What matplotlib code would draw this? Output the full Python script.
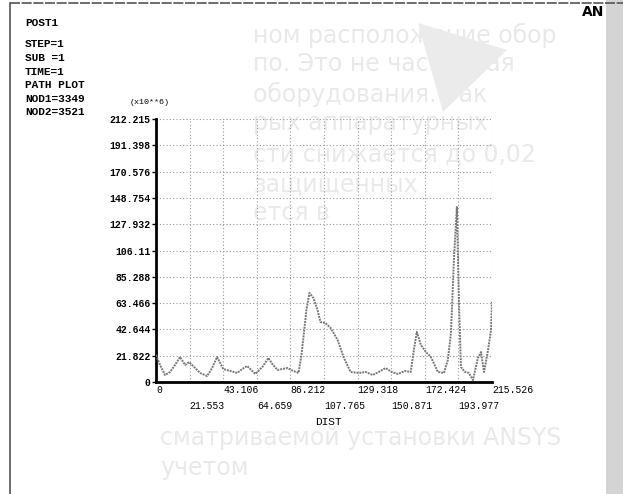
import matplotlib.pyplot as plt
from matplotlib.patches import Polygon, Rectangle

# path plot (DIST, value x10**6)
dist = [0.0, 2.6, 5.8, 9.0, 12.2, 15.4, 18.7, 21.2, 25.1, 28.3,
        32.8, 36.0, 39.2, 43.1, 47.6, 52.1, 55.3, 58.5, 63.7, 68.2,
        72.1, 74.6, 77.9, 81.1, 84.3, 88.1, 91.4, 93.3, 94.6, 96.5,
        98.4, 101.0, 103.6, 105.5, 108.7, 112.0, 116.5, 120.3, 124.8, 130.0,
        134.5, 139.0, 142.8, 147.3, 151.2, 155.1, 159.6, 163.4, 165.4, 167.3,
        169.9, 173.1, 176.3, 180.8, 184.7, 187.2, 189.2, 191.1, 193.0, 194.3,
        195.6, 198.2, 200.7, 203.3, 206.5, 208.5, 210.4, 213.0, 214.9, 215.5]
value = [21.8, 13.7, 5.6, 8.1, 13.7, 20.2, 13.7, 16.1, 11.3, 7.3,
         4.8, 11.3, 20.2, 10.5, 8.9, 7.3, 10.5, 12.9, 6.5, 12.1,
         19.4, 14.5, 9.7, 10.5, 11.3, 8.9, 7.3, 21.8, 36.3, 58.1,
         71.8, 67.8, 58.1, 48.4, 47.6, 43.6, 33.9, 20.2, 8.1, 7.3,
         8.1, 5.6, 8.1, 11.3, 8.1, 6.5, 8.9, 8.1, 25.8, 40.4,
         29.9, 24.2, 20.2, 8.1, 7.3, 17.8, 39.5, 98.5, 141.2, 66.2,
         12.1, 8.1, 7.3, 1.6, 19.4, 24.2, 8.1, 25.8, 42.0, 64.6]

x_labels = ['0', '21.553', '43.106', '64.659', '86.212', '107.765',
            '129.318', '150.871', '172.424', '193.977', '215.526']
y_labels = ['0', '21.822', '42.644', '63.466', '85.288', '106.11',
            '127.932', '148.754', '170.576', '191.398', '212.215']
x_max = 215.526
y_max = 212.215

header = ['POST1', 'STEP=1', 'SUB =1', 'TIME=1', 'PATH PLOT', 'NOD1=3349', 'NOD2=3521']
header_y = [23, 44, 58, 72, 85, 99, 112]

# faint text showing through from the other side of the page
bleed = [(253, 35, 'ном расположение обор'),
         (253, 64, 'по. Это не частотная'),
         (253, 94, 'оборудования. Так'),
         (253, 123, 'рых аппаратурных'),
         (253, 155, 'сти снижается до 0,02'),
         (253, 185, 'защищенных'),
         (253, 213, 'ется в'),
         (160, 438, 'сматриваемой установки ANSYS'),
         (160, 468, 'учетом')]

W, H = 623, 494
mono = 'Liberation Mono'


def fx(px):
    return px / W


def fy(py):
    return 1 - py / H


fig = plt.figure(figsize=(W / 100, H / 100), dpi=100)
fig.patch.set_facecolor('white')

for x, y, s in bleed:
    fig.text(fx(x), fy(y), s, fontsize=17, family='DejaVu Sans', color='#e9e9e9',
             va='center', ha='left', zorder=-5)

# scanner artefacts
fig.patches.append(Polygon([(fx(418), fy(23)), (fx(507), fy(50)), (fx(443), fy(112))],
                           closed=True, transform=fig.transFigure, facecolor='#ebebeb',
                           edgecolor='none', zorder=-4))
fig.patches.append(Rectangle((fx(606), 0), fx(17), 1, transform=fig.transFigure,
                             facecolor='#d4d4d4', edgecolor='none', zorder=-4))

# page frame
fig.add_artist(plt.Line2D([fx(10), fx(623)], [fy(3), fy(3)], transform=fig.transFigure,
                          color='#555555', lw=1.2, ls=(0, (6, 1))))
fig.add_artist(plt.Line2D([fx(10), fx(10)], [fy(3), 0], transform=fig.transFigure,
                          color='#555555', lw=1.2))

ax = fig.add_axes([fx(156), fy(382), (492 - 156) / W, (382 - 119) / H])
ax.set_facecolor('none')

ax.plot(dist, value, color='#777777', lw=1.4, ls=(0, (1, 0.5)), zorder=3)

x_ticks = [x_max * i / 10 for i in range(11)]
y_ticks = [y_max * i / 10 for i in range(11)]
ax.set_xlim(0, x_max)
ax.set_ylim(0, y_max)
ax.set_xticks(x_ticks, x_labels)
ax.set_yticks(y_ticks, y_labels)
for i, lbl in enumerate(ax.get_xticklabels()):
    lbl.set_ha('left')
    lbl.set_family(mono)
    lbl.set_fontsize(7)
    if i % 2:
        lbl.set_y(-0.06)
for lbl in ax.get_yticklabels():
    lbl.set_family(mono)
    lbl.set_fontsize(7)
    lbl.set_fontweight('bold')
ax.tick_params(axis='x', length=0, pad=2)
ax.tick_params(axis='y', length=3, width=1, pad=1)

ax.grid(True, color='#999999', ls=(0, (1, 2)), lw=0.8)
for s in ['top', 'right']:
    ax.spines[s].set_visible(False)
for s in ['left', 'bottom']:
    ax.spines[s].set_linewidth(2)
    ax.spines[s].set_color('black')

for s, y in zip(header, header_y):
    fig.text(fx(25), fy(y), s, family=mono, fontsize=8, fontweight='bold',
             va='center', ha='left')
fig.text(fx(130), fy(103), '(x10**6)', family=mono, fontsize=6, va='center', ha='left')
fig.text(fx(328), fy(422), 'DIST', family=mono, fontsize=8, va='center', ha='center')
fig.text(fx(593), fy(12), 'AN', fontsize=10, fontweight='bold', va='center', ha='center')

fig.savefig('out.png', dpi=100)
